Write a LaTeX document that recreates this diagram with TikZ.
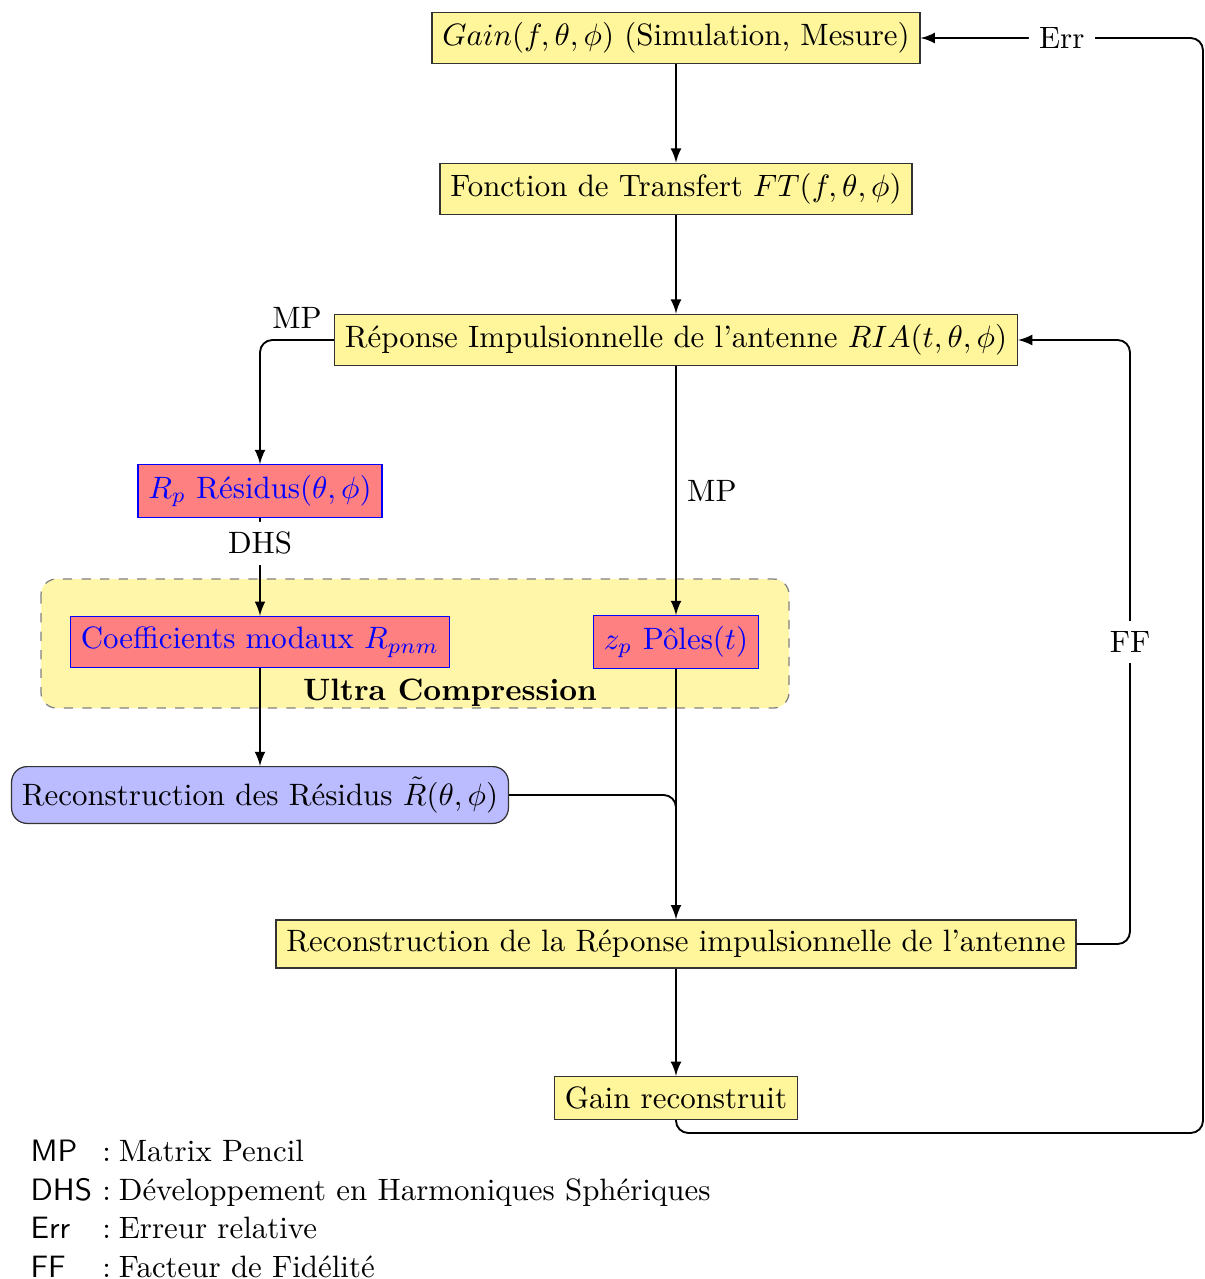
\documentclass[tikz,border=0pt]{standalone}
\usepackage{fontspec}
\usepackage{amsmath}
\usetikzlibrary{arrows,positioning,backgrounds}
\definecolor{boxyellow}{RGB}{255,245,155}
\definecolor{bgyellow}{RGB}{255,246,170}
\definecolor{boxred}{RGB}{255,128,128}
\definecolor{boxblue}{RGB}{187,187,255}
\tikzset{
  ybox/.style={draw=black!80, thin, fill=boxyellow},
  rbox/.style={draw=blue, thin, fill=boxred, text=blue},
  bbox/.style={draw=black!80, thin, fill=boxblue, rounded corners=5pt},
  conn/.style={semithick, -latex, rounded corners=4pt},
  lbl/.style={fill=white},
}
\begin{document}
\begin{tikzpicture}[x=0.3236pt, y=-0.3236pt]
\useasboundingbox (0,0) rectangle (1205,1279);
% background region
\fill[bgyellow, rounded corners=5pt] (41,579) rectangle (789,708);
\draw[gray, thin, dashed, rounded corners=5pt] (41,579) rectangle (789,708);
\node[font=\bfseries] (uc) at (450,693) {Ultra Compression};

\node[ybox] (gain) at (676,38) {$Gain(f,\theta,\phi)$ (Simulation, Mesure)};
\node[ybox] (ft) at (676,189) {Fonction de Transfert $FT(f,\theta,\phi)$};
\node[ybox] (ria) at (676,340) {Réponse Impulsionnelle de l’antenne $RIA(t,\theta,\phi)$};
\node[rbox] (rp) at (260,491) {$R_p$ Résidus$(\theta,\phi)$};
\node[rbox] (coef) at (260,642) {Coefficients modaux $R_{pnm}$};
\node[rbox] (zp) at (676,642) {$z_p$ Pôles$(t)$};
\node[bbox] (rres) at (260,795) {Reconstruction des Résidus $\tilde{R}(\theta,\phi)$};
\node[ybox] (rrep) at (676,944) {Reconstruction de la Réponse impulsionnelle de l’antenne};
\node[ybox] (grec) at (676,1098) {Gain reconstruit};

\coordinate (cerr1) at (676,1133);
\coordinate (cerr2) at (1203,1133);
\coordinate (cerr3) at (1203,38);
\coordinate (cff1) at (1130,944);
\coordinate (cff2) at (1130,340);
\coordinate (cmerge) at (676,795);

\draw[conn] (gain) -- (ft);
\draw[conn] (ft) -- (ria);
\draw[conn] (ria.west) -| node[pos=0.25, above] {MP} (rp.north);
\draw[conn] (ria.south) -- node[right] {MP} (zp.north);
\draw[conn] (rp.south) -- node[lbl, pos=0.26] {DHS} (coef.north);
\draw[conn] (coef.south) -- (rres.north);
\draw[conn] (zp.south) -- (rrep.north);
\draw[semithick, rounded corners=4pt] (rres.east) -- (cmerge) -- ++(0,30);
\draw[conn] (rrep.south) -- (grec.north);
\draw[conn] (rrep.east) -- (cff1) -- node[lbl] {FF} (cff2) -- (ria.east);
\draw[conn] (grec.south) -- (cerr1) -- (cerr2) -- (cerr3) -- node[lbl] {Err} (gain.east);

% legend
\node[anchor=north west, inner sep=0pt] (legend) at (30,1134) {%
\renewcommand{\arraystretch}{1.04}%
\begin{tabular}{@{}l@{\ }l@{}}
\textsf{MP} & :\hspace{2.6pt}Matrix Pencil\\
\textsf{DHS} & :\hspace{2.6pt}Développement en Harmoniques Sphériques\\
\textsf{Err} & :\hspace{2.6pt}Erreur relative\\
\textsf{FF} & :\hspace{2.6pt}Facteur de Fidélité
\end{tabular}};
\end{tikzpicture}
\end{document}
